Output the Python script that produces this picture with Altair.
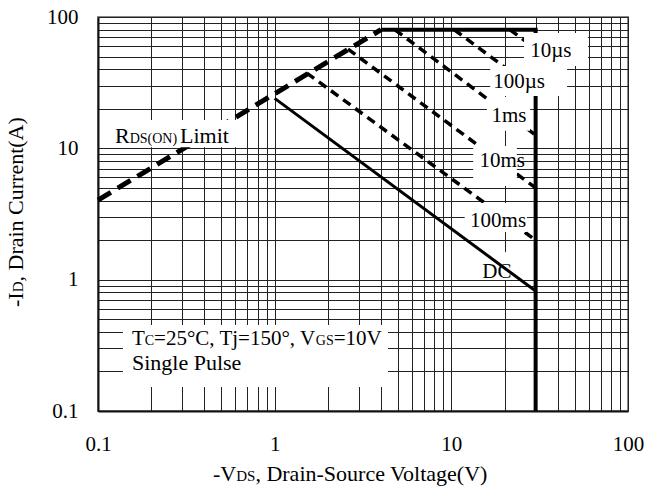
import altair as alt
import pandas as pd

FONT = "Liberation Serif"

# ---------------- axis values ----------------
grid_mantissas = [1, 2, 3, 4, 5, 6, 7, 8, 9]
grid_decades = [0.1, 1, 10]
grid_values = [round(m * d, 6) for d in grid_decades for m in grid_mantissas] + [100]
major_values = [0.1, 1, 10, 100]

# ---------------- curves (VDS [V], ID [A]) ----------------
rds_v = [0.1, 4.0]
rds_i = [4.04, 80.0]

limit_v = [4.0, 30.0, 30.0]
limit_i = [80.0, 80.0, 0.1]

dc_v = [1.0, 30.0]
dc_i = [24.0, 0.82]

pulse_names = ["100ms", "10ms", "1ms", "100µs", "10µs"]
pulse_v0 = [1.52, 2.6, 4.8, 10.4, 21.5]
pulse_i0 = [37.4, 57.0, 80.0, 80.0, 80.0]
pulse_v1 = [30.0, 30.0, 30.0, 30.0, 30.0]
pulse_i1 = [2.0, 5.0, 12.6, 27.7, 57.3]

# ---------------- curve labels ----------------
label_text = ["10µs", "100µs", "1ms", "10ms", "100ms", "DC"]
label_v = [36.6, 24.2, 21.2, 19.4, 18.4, 18.1]
label_i = [49.6, 28.8, 15.9, 7.21, 2.52, 1.03]

# white label backgrounds (v0, v1, i_top, i_bottom)
box_name = ["10µs", "100µs", "1ms", "10ms", "100ms", "rds", "cond"]
box_v0 = [25.8, 16.6, 15.9, 13.3, 11.9, 0.1067, 0.1385]
box_v1 = [59.4, 45.2, 27.9, 23.5, 26.8, 0.662, 4.38]
box_i0 = [75.5, 42.4, 24.6, 10.4, 3.83, 16.4, 0.4517]
box_i1 = [42.4, 25.0, 13.6, 5.16, 2.31, 10.2, 0.1523]

dc_box_v = [14.9, 22.0]
dc_box_i = [1.62, 0.994]

# annotation anchors
rds_anchor = (0.1248, 10.98)
cond_anchor1 = (0.1557, 0.318)
cond_anchor2 = (0.1557, 0.205)

# ---------------- encodings ----------------
label_expr = "indexof([0.1, 1, 10, 100], datum.value) >= 0 ? datum.label : ''"

common_axis = dict(
    values=grid_values,
    labelExpr=label_expr,
    format="~g",
    grid=True,
    gridColor="#222222",
    gridWidth=1,
    ticks=False,
    domainColor="#111111",
    domainWidth=2,
    labelFont=FONT,
    labelFontSize=21,
    labelColor="black",
    labelOverlap=False,
    labelFlush=False,
    title=None,
)

x_axis = alt.Axis(labelPadding=22, **common_axis)
y_axis = alt.Axis(labelPadding=20, **common_axis)

xs = alt.Scale(type="log", domain=[0.1, 100], nice=False)
ys = alt.Scale(type="log", domain=[0.1, 100], nice=False)


def X(f):
    return alt.X(f, type="quantitative", scale=xs, axis=x_axis)


def Y(f):
    return alt.Y(f, type="quantitative", scale=ys, axis=y_axis)


# ---------------- data frames ----------------
rds_df = pd.DataFrame({"v": rds_v, "i": rds_i, "k": range(len(rds_v))})
limit_df = pd.DataFrame({"v": limit_v, "i": limit_i, "k": range(len(limit_v))})
dc_df = pd.DataFrame({"v": dc_v, "i": dc_i, "k": range(len(dc_v))})

rows = []
for n, a, b, c, d in zip(pulse_names, pulse_v0, pulse_i0, pulse_v1, pulse_i1):
    rows.append({"name": n, "v": a, "i": b, "k": 0})
    rows.append({"name": n, "v": c, "i": d, "k": 1})
pulse_df = pd.DataFrame(rows)

box_df = pd.DataFrame({"name": box_name, "v0": box_v0, "v1": box_v1, "i0": box_i0, "i1": box_i1})
dc_box_df = pd.DataFrame({"v0": [dc_box_v[0]], "v1": [dc_box_v[1]], "i0": [dc_box_i[0]], "i1": [dc_box_i[1]]})
label_df = pd.DataFrame({"t": label_text, "v": label_v, "i": label_i})

# ---------------- layers ----------------
dc_box = alt.Chart(dc_box_df).mark_rect(fill="white", stroke=None).encode(
    x=X("v0"), x2="v1", y=Y("i0"), y2="i1"
)

rds_line = alt.Chart(rds_df).mark_line(color="black", strokeWidth=5, strokeDash=[15, 8]).encode(
    x=X("v"), y=Y("i"), order="k:Q"
)
limit_line = alt.Chart(limit_df).mark_line(color="black", strokeWidth=4, strokeJoin="miter").encode(
    x=X("v"), y=Y("i"), order="k:Q"
)
dc_line = alt.Chart(dc_df).mark_line(color="black", strokeWidth=3).encode(
    x=X("v"), y=Y("i"), order="k:Q"
)
pulse_lines = alt.Chart(pulse_df).mark_line(color="black", strokeWidth=3.5, strokeDash=[9, 6]).encode(
    x=X("v"), y=Y("i"), detail="name:N", order="k:Q"
)

boxes = alt.Chart(box_df).mark_rect(fill="white", stroke=None).encode(
    x=X("v0"), x2="v1", y=Y("i0"), y2="i1"
)

labels = alt.Chart(label_df).mark_text(
    font=FONT, fontSize=21, align="center", baseline="alphabetic", color="black"
).encode(x=X("v"), y=Y("i"), text="t:N")


def piece(anchor, text, size, dx):
    df = pd.DataFrame({"v": [anchor[0]], "i": [anchor[1]], "t": [text]})
    return alt.Chart(df).mark_text(
        font=FONT, fontSize=size, align="left", baseline="alphabetic", color="black", dx=dx
    ).encode(x=X("v"), y=Y("i"), text="t:N")


rds_text = [
    piece(rds_anchor, "R", 22, 0),
    piece(rds_anchor, "DS(ON)", 14, 14.7),
    piece(rds_anchor, "Limit", 22, 65),
]
cond_text = [
    piece(cond_anchor1, "T", 21, 0),
    piece(cond_anchor1, "C", 14, 12.8),
    piece(cond_anchor1, "=25°C, Tj=150°, V", 21, 22.1),
    piece(cond_anchor1, "GS", 14, 183.9),
    piece(cond_anchor1, "=10V", 21, 201.8),
    piece(cond_anchor2, "Single Pulse", 22, 0),
]


def title_piece(text, size, x, y, dx, angle=0):
    kw = dict(font=FONT, fontSize=size, align="left", baseline="alphabetic", color="black", dx=dx)
    if angle:
        kw["angle"] = angle
    return alt.Chart(alt.Data(values=[{"t": text}])).mark_text(**kw).encode(
        x=alt.value(x), y=alt.value(y), text="t:N"
    )


x_title = [
    title_piece("-V", 22, 115, 464, 0),
    title_piece("DS", 15, 115, 464, 23.2),
    title_piece(", Drain-Source Voltage(V)", 22, 115, 464, 42.4),
]
y_title = [
    title_piece("-I", 22, -75, 290, 0, 270),
    title_piece("D", 15, -75, 290, 14.7, 270),
    title_piece(", Drain Current(A)", 22, -75, 290, 25.5, 270),
]

chart = alt.layer(
    dc_box, rds_line, limit_line, dc_line, pulse_lines, boxes, labels,
    *rds_text, *cond_text, *x_title, *y_title
).properties(
    width=530,
    height=394,
    padding={"left": 98, "top": 17, "right": 20, "bottom": 75},
    autosize=alt.AutoSizeParams(type="none"),
    background="white",
).configure_view(stroke="#888888", strokeWidth=2)

chart.save("out.html", embed_options={"renderer": "svg", "actions": False})
